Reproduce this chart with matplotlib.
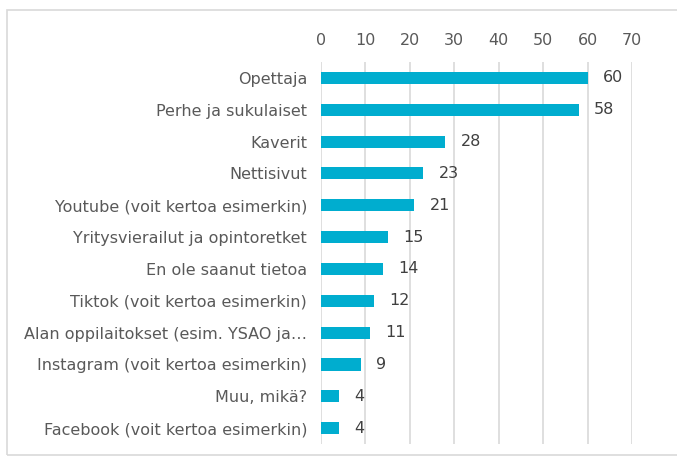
import matplotlib.pyplot as plt
from matplotlib.patches import Rectangle

labels = [
    "Opettaja",
    "Perhe ja sukulaiset",
    "Kaverit",
    "Nettisivut",
    "Youtube (voit kertoa esimerkin)",
    "Yritysvierailut ja opintoretket",
    "En ole saanut tietoa",
    "Tiktok (voit kertoa esimerkin)",
    "Alan oppilaitokset (esim. YSAO ja…",
    "Instagram (voit kertoa esimerkin)",
    "Muu, mikä?",
    "Facebook (voit kertoa esimerkin)",
]
values = [60, 58, 28, 23, 21, 15, 14, 12, 11, 9, 4, 4]

fig = plt.figure(figsize=(6.77, 4.66), dpi=100)
ax = fig.add_axes([0.474, 0.047, 0.460, 0.820])

# kehys koko kuvan ympärillä
fig.patches.append(Rectangle((7 / 677, 11 / 466), 1.2, 445 / 466,
                             transform=fig.transFigure, fill=False,
                             edgecolor="#d9d9d9", linewidth=1.2))

pos = list(range(len(labels)))
ax.barh(pos, values, height=0.38, color="#00ADCF")
for p, v in zip(pos, values):
    ax.annotate(str(v), (v, p), xytext=(11, 0), textcoords="offset points",
                va="center", ha="left", fontsize=11.5, color="#404040")

ax.set_xlim(0, 70)
ax.set_ylim(len(labels) - 0.5, -0.5)
ax.set_xticks(range(0, 71, 10))
ax.set_yticks(pos)
ax.set_yticklabels(labels)
ax.xaxis.tick_top()
ax.tick_params(axis="both", length=0, labelsize=11.5, labelcolor="#595959")
ax.tick_params(axis="x", pad=10)
ax.tick_params(axis="y", pad=10)
ax.grid(axis="x", color="#d9d9d9", linewidth=1.2)
ax.set_axisbelow(True)
for s in ax.spines.values():
    s.set_visible(False)

fig.savefig("out.png", dpi=100)
